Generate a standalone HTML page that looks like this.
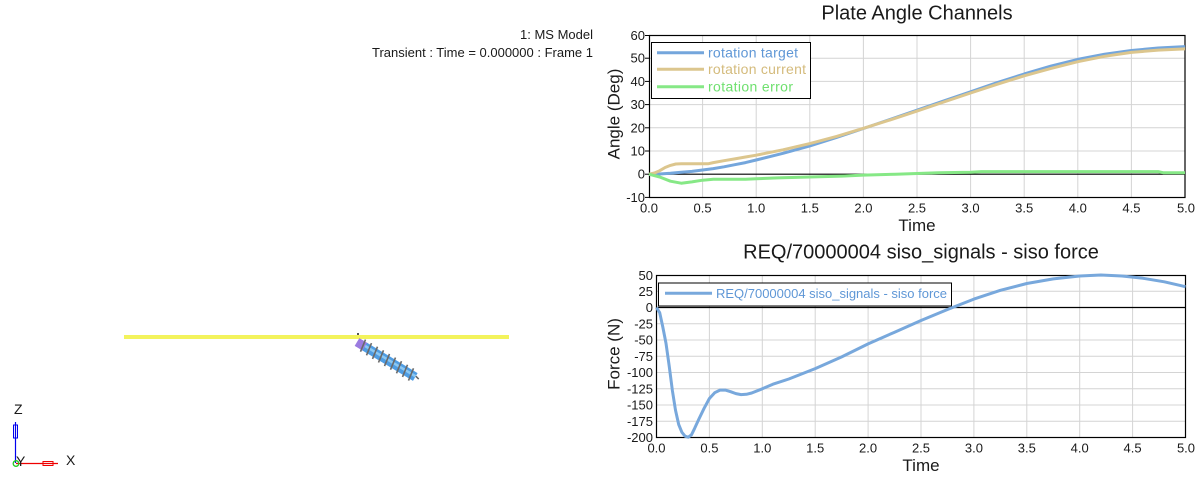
<!DOCTYPE html>
<html><head><meta charset="utf-8"><style>
html,body{margin:0;padding:0;background:#fff;width:1200px;height:480px;overflow:hidden}
svg{display:block}
text{font-family:"Liberation Sans",sans-serif;fill:#1a1a1a}
.tk{font-size:13px}
.ax{font-size:17px}
.tt{font-size:20px}
.g{stroke:#d4d4d4;stroke-width:1;fill:none}
</style></head><body>
<svg width="1200" height="480" viewBox="0 0 1200 480" xmlns="http://www.w3.org/2000/svg">
<rect x="0" y="0" width="1200" height="480" fill="#fff"/>

<!-- Left 3D view header -->
<text x="593" y="39" text-anchor="end" style="font-size:13px">1: MS Model</text>
<text x="593" y="57" text-anchor="end" style="font-size:13px">Transient : Time = 0.000000 : Frame 1</text>

<!-- yellow plate -->
<rect x="124" y="335" width="385" height="4" fill="#f3f35c"/>

<!-- screw -->
<g transform="translate(357,342) rotate(31)">
  <rect x="0" y="-4.5" width="10" height="9" fill="#9b7be0"/>
  <rect x="9" y="-4.5" width="59" height="9" fill="#4f9de3"/>
  <rect x="9" y="-2" width="59" height="2.5" fill="#8cc8f2"/>
  <g stroke="#6a6a6a" stroke-width="1.6">
    <line x1="6" y1="-6.5" x2="8" y2="6.5"/>
    <line x1="13" y1="-6.5" x2="15" y2="6.5"/>
    <line x1="20" y1="-6.5" x2="22" y2="6.5"/>
    <line x1="27" y1="-6.5" x2="29" y2="6.5"/>
    <line x1="34" y1="-6.5" x2="36" y2="6.5"/>
    <line x1="41" y1="-6.5" x2="43" y2="6.5"/>
    <line x1="48" y1="-6.5" x2="50" y2="6.5"/>
    <line x1="55" y1="-6.5" x2="57" y2="6.5"/>
    <line x1="62" y1="-6.5" x2="64" y2="6.5"/>
  </g>
  <line x1="68" y1="-1" x2="72" y2="0" stroke="#666" stroke-width="1.5"/>
</g>
<rect x="357" y="333" width="2" height="2" fill="#555"/>

<!-- triad -->
<line x1="15.5" y1="422" x2="15.5" y2="463" stroke="#0000ee" stroke-width="1.2"/>
<rect x="13.5" y="425" width="4" height="13" fill="none" stroke="#0000ee" stroke-width="1"/>
<line x1="16" y1="463.5" x2="58" y2="463.5" stroke="#ee0000" stroke-width="1.2"/>
<rect x="43" y="461.5" width="10" height="4" fill="none" stroke="#ee0000" stroke-width="1"/>
<circle cx="16" cy="463.5" r="2.8" fill="none" stroke="#22cc22" stroke-width="1.3"/>
<text x="14" y="414" style="font-size:14px">Z</text>
<text x="16" y="466" style="font-size:14px">Y</text>
<text x="66" y="465" style="font-size:14px">X</text>

<!-- ============ TOP CHART ============ -->
<text x="917" y="19.5" text-anchor="middle" class="tt">Plate Angle Channels</text>
<g class="g">
  <line x1="702.6" y1="35" x2="702.6" y2="197.4"/>
  <line x1="756.2" y1="35" x2="756.2" y2="197.4"/>
  <line x1="809.8" y1="35" x2="809.8" y2="197.4"/>
  <line x1="863.4" y1="35" x2="863.4" y2="197.4"/>
  <line x1="917.0" y1="35" x2="917.0" y2="197.4"/>
  <line x1="970.6" y1="35" x2="970.6" y2="197.4"/>
  <line x1="1024.2" y1="35" x2="1024.2" y2="197.4"/>
  <line x1="1077.8" y1="35" x2="1077.8" y2="197.4"/>
  <line x1="1131.4" y1="35" x2="1131.4" y2="197.4"/>
  <line x1="649" y1="58.2" x2="1185" y2="58.2"/>
  <line x1="649" y1="81.4" x2="1185" y2="81.4"/>
  <line x1="649" y1="104.6" x2="1185" y2="104.6"/>
  <line x1="649" y1="127.8" x2="1185" y2="127.8"/>
  <line x1="649" y1="151.0" x2="1185" y2="151.0"/>
</g>
<line x1="649" y1="174.2" x2="1185" y2="174.2" stroke="#000" stroke-width="1.2"/>
<rect x="649.5" y="35.5" width="535.5" height="162" fill="none" stroke="#000" stroke-width="1.2"/>
<g stroke="#000" stroke-width="1">
  <line x1="645" y1="35.5" x2="649" y2="35.5"/><line x1="645" y1="58.2" x2="649" y2="58.2"/>
  <line x1="645" y1="81.4" x2="649" y2="81.4"/><line x1="645" y1="104.6" x2="649" y2="104.6"/>
  <line x1="645" y1="127.8" x2="649" y2="127.8"/><line x1="645" y1="151" x2="649" y2="151"/>
  <line x1="645" y1="174.2" x2="649" y2="174.2"/><line x1="645" y1="197.4" x2="649" y2="197.4"/>
</g>
<g class="tk" text-anchor="end">
  <text x="645" y="40">60</text>
  <text x="645" y="62.7">50</text>
  <text x="645" y="85.9">40</text>
  <text x="645" y="109.1">30</text>
  <text x="645" y="132.3">20</text>
  <text x="645" y="155.5">10</text>
  <text x="645" y="178.7">0</text>
  <text x="645" y="201.9">-10</text>
</g>
<g class="tk" text-anchor="middle">
  <text x="649" y="212.5">0.0</text>
  <text x="702.6" y="212.5">0.5</text>
  <text x="756.2" y="212.5">1.0</text>
  <text x="809.8" y="212.5">1.5</text>
  <text x="863.4" y="212.5">2.0</text>
  <text x="917.0" y="212.5">2.5</text>
  <text x="970.6" y="212.5">3.0</text>
  <text x="1024.2" y="212.5">3.5</text>
  <text x="1077.8" y="212.5">4.0</text>
  <text x="1131.4" y="212.5">4.5</text>
  <text x="1186" y="212.5">5.0</text>
</g>
<text x="917" y="231" text-anchor="middle" class="ax">Time</text>
<text transform="translate(619.5,114) rotate(-90)" text-anchor="middle" class="ax">Angle (Deg)</text>

<!-- series -->
<polyline fill="none" stroke="#74a6dc" stroke-width="3" stroke-linejoin="round" points="649,174.2 659.7,174.0 670.4,173.3 681.2,172.3 691.9,171.4 702.6,170.0 713.3,168.6 724.0,166.8 734.8,164.7 745.5,162.6 756.2,160.0 783.0,153.3 809.8,145.9 836.6,137.5 863.4,128.5 890.2,119.4 917.0,110.2 943.8,100.9 970.6,91.8 997.4,82.6 1024.2,74.0 1051.0,66.1 1077.8,59.4 1104.6,54.2 1131.4,50.5 1158.2,48.0 1185,46.6"/>
<polyline fill="none" stroke="#dcc68e" stroke-width="3" stroke-linejoin="round" points="649,174.2 654.4,173.0 659.7,170.7 665.1,167.5 670.4,165.4 675.8,164.0 681.2,163.8 708.0,163.8 713.3,162.6 724.0,160.7 734.8,158.9 745.5,157.0 756.2,155.2 783.0,149.8 809.8,143.6 836.6,136.4 863.4,128.3 890.2,119.9 917.0,111.1 943.8,102.0 970.6,93.0 997.4,84.2 1024.2,75.8 1051.0,68.4 1077.8,61.7 1104.6,56.3 1131.4,52.4 1158.2,50.1 1185,48.9"/>
<polyline fill="none" stroke="#86e886" stroke-width="3" stroke-linejoin="round" points="649,174.2 659.7,177.0 670.4,181.2 681.2,183.2 691.9,181.9 702.6,180.2 713.3,179.3 745.5,179.3 756.2,178.8 777.6,177.9 809.8,177.0 842.0,176.1 863.4,175.1 895.6,174.2 917.0,173.5 938.4,172.8 970.6,172.3 981.3,171.6 1158.2,171.6 1163.6,172.8 1185,172.8"/>

<!-- legend top -->
<rect x="651.5" y="42.5" width="159" height="56" fill="#fff" stroke="#000" stroke-width="1"/>
<line x1="657" y1="52.7" x2="704" y2="52.7" stroke="#74a6dc" stroke-width="3"/>
<line x1="657" y1="69.3" x2="704" y2="69.3" stroke="#dcc68e" stroke-width="3"/>
<line x1="657" y1="86.7" x2="704" y2="86.7" stroke="#86e886" stroke-width="3"/>
<text x="708" y="57.5" style="font-size:14px;fill:#5f97d6" textLength="90">rotation target</text>
<text x="708" y="74.2" style="font-size:14px;fill:#d4bb7c" textLength="98">rotation current</text>
<text x="708" y="91.5" style="font-size:14px;fill:#6fe06f" textLength="85">rotation error</text>

<!-- ============ BOTTOM CHART ============ -->
<text x="921" y="258.5" text-anchor="middle" class="tt">REQ/70000004 siso_signals - siso force</text>
<g class="g">
  <line x1="709.4" y1="275" x2="709.4" y2="437.5"/>
  <line x1="762.3" y1="275" x2="762.3" y2="437.5"/>
  <line x1="815.2" y1="275" x2="815.2" y2="437.5"/>
  <line x1="868.1" y1="275" x2="868.1" y2="437.5"/>
  <line x1="921.0" y1="275" x2="921.0" y2="437.5"/>
  <line x1="973.9" y1="275" x2="973.9" y2="437.5"/>
  <line x1="1026.8" y1="275" x2="1026.8" y2="437.5"/>
  <line x1="1079.7" y1="275" x2="1079.7" y2="437.5"/>
  <line x1="1132.6" y1="275" x2="1132.6" y2="437.5"/>
  <line x1="656.5" y1="291.25" x2="1185.5" y2="291.25"/>
  <line x1="656.5" y1="323.75" x2="1185.5" y2="323.75"/>
  <line x1="656.5" y1="340" x2="1185.5" y2="340"/>
  <line x1="656.5" y1="356.25" x2="1185.5" y2="356.25"/>
  <line x1="656.5" y1="372.5" x2="1185.5" y2="372.5"/>
  <line x1="656.5" y1="388.75" x2="1185.5" y2="388.75"/>
  <line x1="656.5" y1="405" x2="1185.5" y2="405"/>
  <line x1="656.5" y1="421.25" x2="1185.5" y2="421.25"/>
</g>
<line x1="656.5" y1="307.5" x2="1185.5" y2="307.5" stroke="#000" stroke-width="1.2"/>
<rect x="656.5" y="275.5" width="529" height="162" fill="none" stroke="#000" stroke-width="1.2"/>
<g class="tk" text-anchor="end">
  <text x="653" y="280">50</text>
  <text x="653" y="295.8">25</text>
  <text x="653" y="312">0</text>
  <text x="653" y="328.3">-25</text>
  <text x="653" y="344.5">-50</text>
  <text x="653" y="360.8">-75</text>
  <text x="653" y="377">-100</text>
  <text x="653" y="393.3">-125</text>
  <text x="653" y="409.5">-150</text>
  <text x="653" y="425.8">-175</text>
  <text x="653" y="442">-200</text>
</g>
<g class="tk" text-anchor="middle">
  <text x="656.5" y="452.5">0.0</text>
  <text x="709.4" y="452.5">0.5</text>
  <text x="762.3" y="452.5">1.0</text>
  <text x="815.2" y="452.5">1.5</text>
  <text x="868.1" y="452.5">2.0</text>
  <text x="921.0" y="452.5">2.5</text>
  <text x="973.9" y="452.5">3.0</text>
  <text x="1026.8" y="452.5">3.5</text>
  <text x="1079.7" y="452.5">4.0</text>
  <text x="1132.6" y="452.5">4.5</text>
  <text x="1186" y="452.5">5.0</text>
</g>
<text x="921" y="471" text-anchor="middle" class="ax">Time</text>
<text transform="translate(619.5,354) rotate(-90)" text-anchor="middle" class="ax">Force (N)</text>

<rect x="658.5" y="283" width="293" height="23" fill="#fff" stroke="#000" stroke-width="1"/>
<line x1="665" y1="293.3" x2="712" y2="293.3" stroke="#78a8dc" stroke-width="3"/>
<text x="716" y="298" style="font-size:13px;fill:#5f97d6" textLength="231">REQ/70000004 siso_signals - siso force</text>

<polyline fill="none" stroke="#78a8dc" stroke-width="3" stroke-linejoin="round" points="656.5,307.5 659.7,312.7 662.8,327.0 666.0,343.3 669.2,366.0 672.4,390.7 675.5,410.2 678.7,424.5 681.9,432.3 685.1,436.2 688.2,437.2 691.4,434.9 694.6,428.4 698.8,419.3 704.1,408.3 709.4,398.5 714.7,392.7 720.0,390.1 725.3,390.1 730.6,391.7 735.9,393.6 741.1,394.6 746.4,394.3 751.7,393.0 762.3,388.8 772.9,384.2 788.8,379.0 815.2,368.6 841.7,356.9 868.1,343.9 894.6,332.2 921.0,320.5 947.5,309.5 973.9,299.1 1000.4,290.3 1026.8,283.5 1053.3,278.9 1079.7,276.0 1100.9,275.0 1122.0,276.0 1143.2,278.3 1164.3,281.8 1185.5,286.7"/>
</svg>
</body></html>
